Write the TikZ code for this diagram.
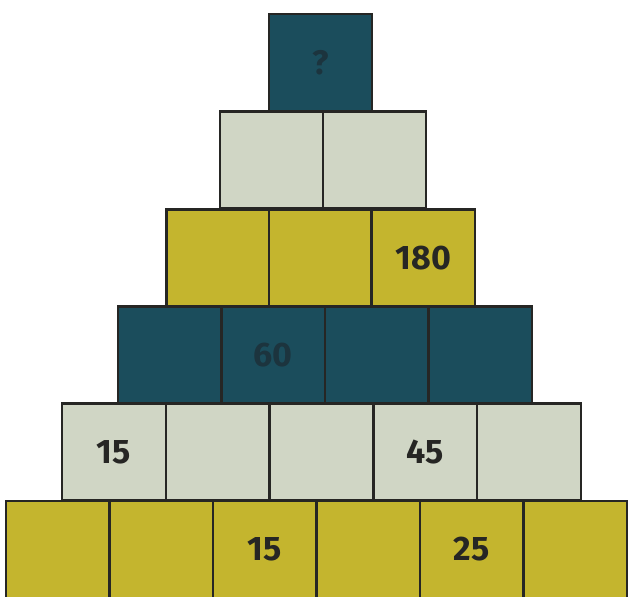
\documentclass[tikz,border=0pt]{standalone}
\usepackage{fontspec}
\setmainfont{Fira Sans}
\definecolor{tealbrick}{RGB}{27, 77, 92}
\definecolor{greybrick}{RGB}{208, 214, 197}
\definecolor{olivebrick}{RGB}{196, 181, 46}
\definecolor{inkdark}{RGB}{38, 38, 36}
\definecolor{inkteal}{RGB}{28, 52, 62}
\usepackage{tikz}
\usetikzlibrary{positioning}

\tikzset{
  brick/.style={draw=inkdark, line width=2.2pt, minimum width=103.5pt, minimum height=97pt,
    inner sep=0pt, font=\fontsize{34}{40}\selectfont\bfseries, text=inkdark},
  tealbox/.style={brick, fill=tealbrick, text=inkteal},
  greybox/.style={brick, fill=greybrick},
  olivebox/.style={brick, fill=olivebrick}
}

\begin{document}
\begin{tikzpicture}[x=1pt, y=-1pt]
  \useasboundingbox (0,0) rectangle (628,596);

  % bottom row
  \node[olivebox] (r6c1) at (57.75,549.5) {};
  \node[olivebox] (r6c2) at (161.25,549.5) {};
  \node[olivebox] (r6c3) at (264.75,549.5) {15};
  \node[olivebox] (r6c4) at (368.25,549.5) {};
  \node[olivebox] (r6c5) at (471.75,549.5) {25};
  \node[olivebox] (r6c6) at (575.25,549.5) {};

  % fifth row
  \node[greybox] (r5c1) at (113.9,452) {15};
  \node[greybox] (r5c2) at (217.7,452) {};
  \node[greybox] (r5c3) at (321.5,452) {};
  \node[greybox] (r5c4) at (425.3,452) {45};
  \node[greybox] (r5c5) at (529.1,452) {};

  % fourth row
  \node[tealbox] (r4c1) at (169.75,355) {};
  \node[tealbox] (r4c2) at (273.25,355) {60};
  \node[tealbox] (r4c3) at (376.75,355) {};
  \node[tealbox] (r4c4) at (480.25,355) {};

  % third row
  \node[olivebox] (r3c1) at (218.25,258) {};
  \node[olivebox] (r3c2) at (320.75,258) {};
  \node[olivebox] (r3c3) at (423.25,258) {180};

  % second row
  \node[greybox] (r2c1) at (271.5,160) {};
  \node[greybox] (r2c2) at (374.5,160) {};

  % top brick
  \node[tealbox] (r1c1) at (320.5,62.75) {?};
\end{tikzpicture}
\end{document}
